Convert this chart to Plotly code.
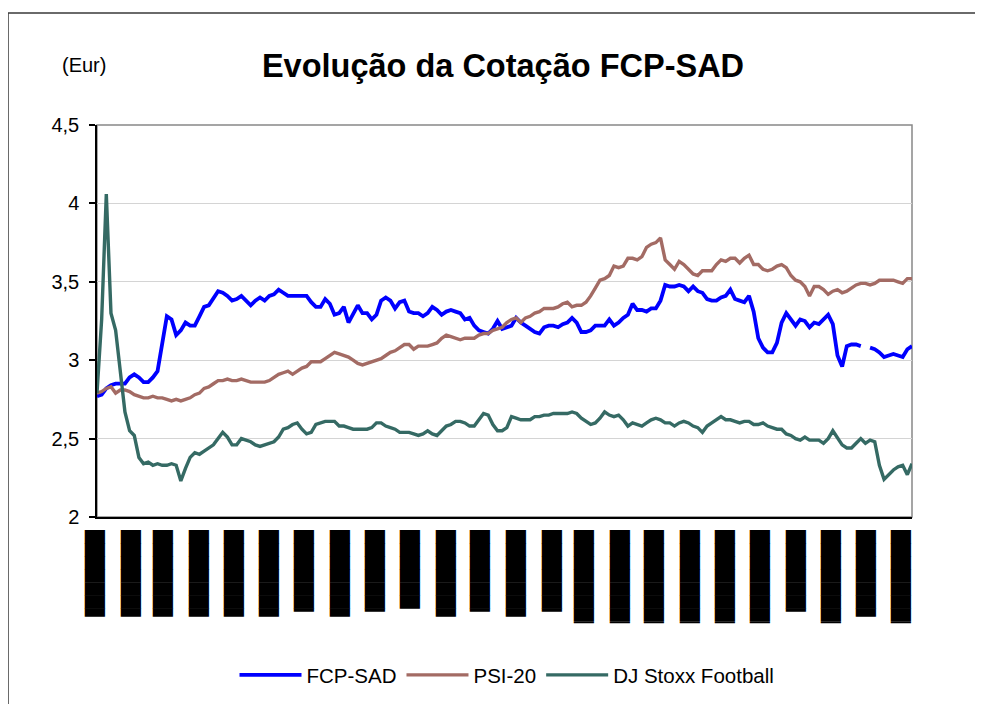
import pandas as pd
import plotly.graph_objects as go

# ---------------- data ----------------
start_date = "2005-01-01"
step = "97h"   # sampling interval of the values below

fcp_sad = [2.77, 2.78, 2.82, 2.84, 2.85, 2.85, 2.85, 2.89, 2.91, 2.89,
           2.86, 2.86, 2.89, 2.93, 3.12, 3.28, 3.26, 3.16, 3.19, 3.24,
           3.22, 3.22, 3.28, 3.34, 3.35, 3.40, 3.44, 3.43, 3.41, 3.38,
           3.39, 3.41, 3.38, 3.35, 3.38, 3.40, 3.38, 3.41, 3.42, 3.45,
           3.43, 3.41, 3.41, 3.41, 3.41,
           3.41, 3.37, 3.34, 3.34, 3.39, 3.36, 3.29, 3.30, 3.34, 3.24,
           3.30, 3.35, 3.30, 3.30, 3.26, 3.29, 3.38, 3.40, 3.38, 3.33,
           3.37, 3.38, 3.31, 3.30, 3.30, 3.28, 3.30, 3.34, 3.32, 3.29,
           3.31, 3.32, 3.31, 3.30, 3.26, 3.27, 3.22, 3.19, 3.18, 3.17,
           3.20, 3.25, 3.20, 3.21, 3.22,
           3.27, 3.24, 3.22, 3.20, 3.18, 3.17, 3.21, 3.22, 3.22, 3.21,
           3.23, 3.24, 3.27, 3.24, 3.18, 3.18, 3.19, 3.22, 3.22, 3.22,
           3.26, 3.22, 3.24, 3.27, 3.29, 3.36, 3.32, 3.32, 3.31, 3.33,
           3.33, 3.38, 3.48, 3.47, 3.47, 3.48, 3.47, 3.44, 3.47, 3.44,
           3.43, 3.39, 3.38, 3.38,
           3.40, 3.41, 3.45, 3.39, 3.38, 3.37, 3.41, 3.31, 3.14, 3.08,
           3.05, 3.05, 3.11, 3.24, 3.30, 3.26, 3.22, 3.26, 3.25, 3.21,
           3.24, 3.23, 3.26, 3.29, 3.23, 3.03, 2.96, 3.09, 3.10, 3.10,
           3.09, None, 3.08, 3.07, 3.05, 3.02, 3.03, 3.04, 3.03, 3.02,
           3.07, 3.09]

psi_20 = [2.79, 2.80, 2.82, 2.83, 2.79, 2.81, 2.81, 2.80, 2.78, 2.77,
          2.76, 2.76, 2.77, 2.76, 2.76, 2.75, 2.74, 2.75, 2.74, 2.75,
          2.76, 2.78, 2.79, 2.82, 2.83, 2.85, 2.87, 2.87, 2.88, 2.87,
          2.87, 2.88, 2.87, 2.86, 2.86, 2.86, 2.86, 2.87, 2.89, 2.91,
          2.92, 2.93, 2.91, 2.93, 2.95,
          2.96, 2.99, 2.99, 2.99, 3.01, 3.03, 3.05, 3.04, 3.03, 3.02,
          3.00, 2.98, 2.97, 2.98, 2.99, 3.00, 3.01, 3.03, 3.05, 3.06,
          3.08, 3.10, 3.10, 3.07, 3.09, 3.09, 3.09, 3.10, 3.11, 3.14,
          3.16, 3.15, 3.14, 3.13, 3.14, 3.14, 3.14, 3.16, 3.17, 3.17,
          3.19, 3.20, 3.21, 3.24, 3.26,
          3.27, 3.24, 3.27, 3.28, 3.30, 3.31, 3.33, 3.33, 3.33, 3.34,
          3.36, 3.37, 3.34, 3.35, 3.35, 3.37, 3.41, 3.46, 3.51, 3.52,
          3.54, 3.60, 3.59, 3.60, 3.65, 3.65, 3.64, 3.66, 3.72, 3.74,
          3.75, 3.78, 3.64, 3.61, 3.58, 3.63, 3.61, 3.58, 3.55, 3.54,
          3.57, 3.57, 3.57, 3.61,
          3.64, 3.63, 3.65, 3.65, 3.62, 3.65, 3.67, 3.61, 3.61, 3.58,
          3.57, 3.58, 3.60, 3.61, 3.59, 3.54, 3.51, 3.50, 3.47, 3.41,
          3.47, 3.47, 3.45, 3.42, 3.44, 3.45, 3.43, 3.44, 3.46, 3.48,
          3.49, 3.49, 3.48, 3.49, 3.51, 3.51, 3.51, 3.51, 3.50, 3.49,
          3.52, 3.52]

dj_stoxx = [2.79, 3.26, 4.06, 3.30, 3.19, 2.91, 2.67, 2.55, 2.52, 2.38,
            2.34, 2.35, 2.33, 2.34, 2.33, 2.33, 2.34, 2.33, 2.23, 2.31,
            2.38, 2.41, 2.40, 2.42, 2.44, 2.46, 2.50, 2.54, 2.51, 2.46,
            2.46, 2.50, 2.49, 2.48, 2.46, 2.45, 2.46, 2.47, 2.48, 2.51,
            2.56, 2.57, 2.59, 2.60, 2.56,
            2.53, 2.54, 2.59, 2.60, 2.61, 2.61, 2.61, 2.58, 2.58, 2.57,
            2.56, 2.56, 2.56, 2.56, 2.57, 2.60, 2.60, 2.58, 2.57, 2.56,
            2.54, 2.54, 2.54, 2.53, 2.52, 2.53, 2.55, 2.53, 2.52, 2.55,
            2.58, 2.59, 2.61, 2.61, 2.60, 2.58, 2.58, 2.62, 2.66, 2.65,
            2.59, 2.55, 2.55, 2.57, 2.64,
            2.63, 2.62, 2.62, 2.62, 2.64, 2.64, 2.65, 2.65, 2.66, 2.66,
            2.66, 2.66, 2.67, 2.66, 2.63, 2.61, 2.59, 2.60, 2.63, 2.67,
            2.65, 2.64, 2.65, 2.62, 2.58, 2.60, 2.59, 2.58, 2.60, 2.62,
            2.63, 2.62, 2.60, 2.60, 2.58, 2.60, 2.61, 2.60, 2.58, 2.57,
            2.54, 2.58, 2.60, 2.62,
            2.64, 2.62, 2.62, 2.61, 2.60, 2.61, 2.61, 2.59, 2.59, 2.60,
            2.58, 2.57, 2.56, 2.56, 2.53, 2.52, 2.50, 2.49, 2.51, 2.49,
            2.49, 2.49, 2.47, 2.50, 2.55, 2.50, 2.46, 2.44, 2.44, 2.47,
            2.50, 2.47, 2.49, 2.48, 2.33, 2.24, 2.27, 2.30, 2.32, 2.33,
            2.27, 2.34]

series_names = ["FCP-SAD", "PSI-20", "DJ Stoxx Football"]

# monthly date ticks; their labels show as solid black blocks in the picture
month_ticks = pd.date_range("2005-01-01", periods=24, freq="MS")
label_eighths = [53, 53, 53, 53, 53, 53, 50, 53, 50, 48, 53, 50,
                 53, 50, 57, 57, 57, 57, 57, 57, 50, 57, 53, 57]

y_ticks = [2, 2.5, 3, 3.5, 4, 4.5]
y_tick_labels = ["2", "2,5", "3", "3,5", "4", "4,5"]

# ---------------- figure ----------------
dates = pd.date_range(start_date, periods=len(fcp_sad), freq=step)
partials = ["", "\u258F", "\u258E", "\u258D", "\u258C", "\u258B", "\u258A", "\u2589"]
tick_text = [("\u2588" * (n // 8)) + partials[n % 8] for n in label_eighths]

colors = ["#0000FF", "#A36B64", "#356A64"]
widths = [3.8, 3.4, 3.4]

fig = go.Figure()
for name, vals, c, w in zip(series_names, [fcp_sad, psi_20, dj_stoxx], colors, widths):
    fig.add_trace(go.Scatter(x=dates, y=vals, mode="lines", name=name,
                             line=dict(color=c, width=w), connectgaps=False))

OFF = 8                      # page body margin
W, H = 983 - OFF, 704 - OFF  # figure size
PL, PR, PT, PB = 97, 912, 125, 517   # plot area in page pixels
L, T = PL - OFF, PT - OFF
R = W - L - (PR - PL)
B = H - T - (PB - PT)
pw, ph = PR - PL, PB - PT

def px_x(x):
    return (x - PL) / pw

def px_y(y):
    return (PB - y) / ph

fig.update_layout(
    width=W, height=H,
    margin=dict(l=L, r=R, t=T, b=B, pad=0, autoexpand=False),
    paper_bgcolor="white", plot_bgcolor="white",
    font=dict(family="Liberation Sans, Arial, sans-serif", color="black"),
    title=dict(text="Evolução da Cotação FCP-SAD", x=(503 - OFF) / W, xanchor="center",
               xref="container", y=1 - (66 - OFF) / H, yanchor="middle", yref="container",
               font=dict(size=32.5, family="Liberation Sans, Arial, sans-serif",
                         weight="bold", color="black")),
    showlegend=True,
    legend=dict(orientation="h", x=px_x(507), xanchor="center",
                yref="container", y=1 - (675 - OFF) / H, yanchor="middle",
                font=dict(size=20.5, family="Liberation Sans, Arial, sans-serif"),
                bgcolor="rgba(0,0,0,0)", itemwidth=62, tracegroupgap=0),
    xaxis=dict(type="date", range=[dates[0], dates[-1]],
               tickmode="array", tickvals=month_ticks, ticktext=tick_text,
               tickangle=90, ticks="", showgrid=False, zeroline=False,
               showline=True, linecolor="black", linewidth=1.5,
               tickfont=dict(family="DejaVu Sans", size=17, color="black"),
               ticklabelstandoff=8, ticklabelshift=-2, automargin=False),
    yaxis=dict(range=[2, 4.5], tickmode="array", tickvals=y_ticks,
               ticktext=y_tick_labels, ticks="outside", ticklen=6,
               tickwidth=1.5, tickcolor="black", showline=True,
               linecolor="black", linewidth=1.5, showgrid=True,
               gridcolor="#D4D4D4", gridwidth=1, zeroline=False,
               tickfont=dict(size=20, color="black"), ticklabelstandoff=6,
               automargin=False),
    annotations=[dict(text="(Eur)", xref="paper", yref="paper",
                      x=px_x(60), xanchor="left", y=px_y(65), yanchor="middle",
                      showarrow=False, font=dict(size=20, color="black"))],
    shapes=[
        dict(type="rect", xref="paper", yref="paper", x0=0, x1=1, y0=0, y1=1,
             line=dict(color="#888888", width=1.5), layer="below"),
        dict(type="rect", xref="paper", yref="paper", x0=px_x(8), x1=px_x(1200),
             y0=px_y(900), y1=px_y(13), line=dict(color="#3A3A3A", width=1.5),
             layer="above"),
    ],
)

fig.write_html("out.html")
